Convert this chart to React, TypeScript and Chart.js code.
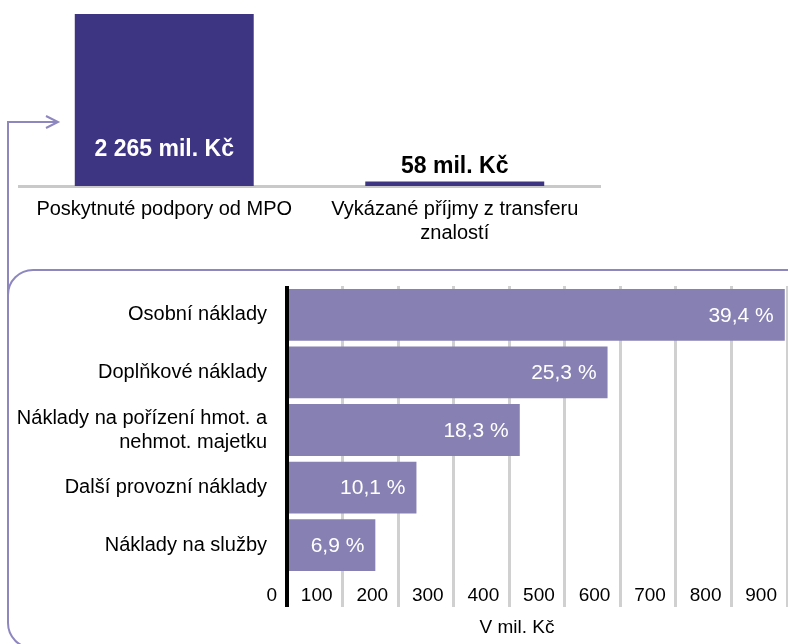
import React, { useEffect, useRef } from 'react';
import { Chart, registerables } from 'chart.js';

Chart.register(...registerables);

const FONT = "'Liberation Sans', Arial, Helvetica, sans-serif";

// ---- top chart data ----
const topCategories: (string | string[])[] = [
  'Poskytnuté podpory od MPO',
  ['Vykázané příjmy z transferu', 'znalostí'],
];
const topValues = [2265, 58];
const topValueLabels = ['2 265 mil. Kč', '58 mil. Kč'];

// ---- bottom chart data ----
const costCategories: (string | string[])[] = [
  'Osobní náklady',
  'Doplňkové náklady',
  ['Náklady na pořízení hmot. a', 'nehmot. majetku'],
  'Další provozní náklady',
  'Náklady na služby',
];
const costValues = [896, 577, 419, 233, 159];
const costShares = ['39,4 %', '25,3 %', '18,3 %', '10,1 %', '6,9 %'];
const xTickValues = [0, 100, 200, 300, 400, 500, 600, 700, 800, 900];
const xAxisTitle = 'V mil. Kč';

const DARK = '#3d3581';
const LIGHT = '#8780b2';
const OUTLINE = '#8e87bf';

function TopChart() {
  const ref = useRef<HTMLCanvasElement>(null);
  useEffect(() => {
    const labelPlugin = {
      id: 'topLabels',
      afterDatasetsDraw(chart: any) {
        const ctx = chart.ctx;
        const meta = chart.getDatasetMeta(0);
        ctx.save();
        ctx.font = `bold 23px ${FONT}`;
        ctx.textAlign = 'center';
        ctx.textBaseline = 'middle';
        meta.data.forEach((bar: any, i: number) => {
          const h = bar.base - bar.y;
          if (h > 60) {
            ctx.fillStyle = '#ffffff';
            ctx.fillText(topValueLabels[i], bar.x, bar.base - 36);
          } else {
            ctx.fillStyle = '#000000';
            ctx.fillText(topValueLabels[i], bar.x, bar.y - 15);
          }
        });
        ctx.restore();
      },
    };
    const chart = new Chart(ref.current!, {
      type: 'bar',
      data: {
        labels: topCategories,
        datasets: [
          {
            data: topValues,
            backgroundColor: DARK,
            borderWidth: 0,
            barPercentage: 0.616,
            categoryPercentage: 1,
          },
        ],
      },
      options: {
        responsive: false,
        animation: false,
        devicePixelRatio: 1,
        layout: { padding: { left: 19, right: 20, top: 14, bottom: 0 } },
        plugins: { legend: { display: false }, tooltip: { enabled: false } },
        scales: {
          x: {
            grid: { display: false, drawTicks: false },
            border: { display: true, color: '#c9c9c9', width: 3 },
            ticks: {
              color: '#000',
              font: { family: FONT, size: 20 },
              padding: 11,
              maxRotation: 0,
              autoSkip: false,
            },
            afterFit: (s: any) => {
              s.height = 74;
            },
          },
          y: {
            display: false,
            min: 0,
            max: 2265,
          },
        },
      },
      plugins: [labelPlugin],
    });
    return () => chart.destroy();
  }, []);
  return (
    <canvas
      ref={ref}
      width={620}
      height={260}
      style={{ position: 'absolute', left: 0, top: 0, width: 620, height: 260 }}
    />
  );
}

function BottomChart() {
  const ref = useRef<HTMLCanvasElement>(null);
  useEffect(() => {
    const decoPlugin = {
      id: 'deco',
      beforeDraw(chart: any) {
        const ctx = chart.ctx;
        ctx.save();
        ctx.strokeStyle = OUTLINE;
        ctx.lineWidth = 2;
        // rounded frame
        ctx.beginPath();
        ctx.moveTo(800, 270);
        ctx.lineTo(33, 270);
        ctx.arcTo(8, 270, 8, 295, 25);
        ctx.lineTo(8, 623);
        ctx.arcTo(8, 648, 33, 648, 25);
        ctx.lineTo(800, 648);
        ctx.stroke();
        // connector arrow
        ctx.beginPath();
        ctx.moveTo(8, 296);
        ctx.lineTo(8, 122);
        ctx.lineTo(57, 122);
        ctx.stroke();
        ctx.beginPath();
        ctx.moveTo(46, 116);
        ctx.lineTo(58, 122);
        ctx.lineTo(46, 128);
        ctx.stroke();
        ctx.restore();
      },
      afterDatasetsDraw(chart: any) {
        const ctx = chart.ctx;
        const meta = chart.getDatasetMeta(0);
        const xs = chart.scales.x;
        const area = chart.chartArea;
        ctx.save();
        // value share labels
        ctx.font = `21px ${FONT}`;
        ctx.fillStyle = '#ffffff';
        ctx.textAlign = 'right';
        ctx.textBaseline = 'middle';
        meta.data.forEach((bar: any, i: number) => {
          ctx.fillText(costShares[i], bar.x - 11, bar.y + 1);
        });
        // x tick labels (placed left of their grid line)
        ctx.font = `19px ${FONT}`;
        ctx.fillStyle = '#000000';
        xTickValues.forEach((v) => {
          const px = xs.getPixelForValue(v);
          ctx.fillText(String(v), px - 10, area.bottom + 22);
        });
        // axis title
        ctx.textAlign = 'center';
        ctx.fillText(xAxisTitle, (area.left + area.right) / 2 - 20, area.bottom + 54);
        ctx.restore();
      },
    };
    const chart = new Chart(ref.current!, {
      type: 'bar',
      data: {
        labels: costCategories,
        datasets: [
          {
            data: costValues,
            backgroundColor: LIGHT,
            borderWidth: 0,
            barPercentage: 0.9,
            categoryPercentage: 1,
          },
        ],
      },
      options: {
        indexAxis: 'y',
        responsive: false,
        animation: false,
        devicePixelRatio: 1,
        layout: { padding: { left: 0, right: 1, top: 286, bottom: 0 } },
        plugins: { legend: { display: false }, tooltip: { enabled: false } },
        scales: {
          x: {
            min: 0,
            max: 900,
            grid: {
              display: true,
              drawTicks: true,
              tickLength: 33,
              color: (c: any) => (c.tick && c.tick.value === 0 ? '#000000' : '#d0d0d0'),
              lineWidth: (c: any) => (c.tick && c.tick.value === 0 ? 4 : 3),
            },
            border: { display: false },
            ticks: { display: false, stepSize: 100 },
            afterFit: (s: any) => {
              s.height = 70;
            },
          },
          y: {
            grid: { display: false, drawTicks: false },
            border: { display: false },
            ticks: {
              color: '#000',
              font: { family: FONT, size: 20 },
              padding: 20,
              autoSkip: false,
            },
            afterFit: (s: any) => {
              s.width = 287;
            },
          },
        },
      },
      plugins: [decoPlugin],
    });
    return () => chart.destroy();
  }, []);
  return (
    <canvas
      ref={ref}
      width={788}
      height={644}
      style={{ position: 'absolute', left: 0, top: 0, width: 788, height: 644 }}
    />
  );
}

export default function App() {
  return (
    <div
      style={{
        position: 'absolute',
        left: 0,
        top: 0,
        width: 788,
        height: 644,
        overflow: 'hidden',
        background: '#ffffff',
      }}
    >
      <BottomChart />
      <TopChart />
    </div>
  );
}
